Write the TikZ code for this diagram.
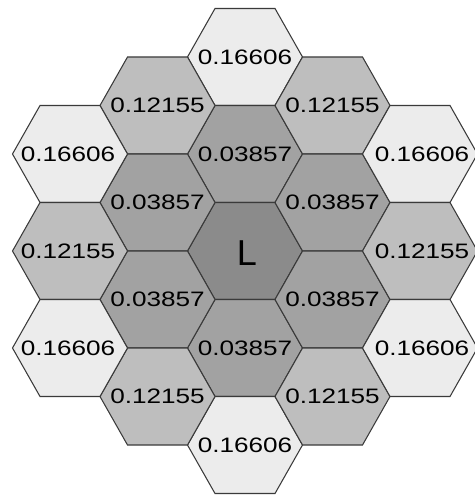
\documentclass[tikz,border=0pt]{standalone}
\usepackage{fontspec}
\usepackage{graphicx}
\setmainfont{Liberation Sans}
\definecolor{ringfar}{HTML}{ECECEC}
\definecolor{ringmid}{HTML}{BEBEBE}
\definecolor{ringnear}{HTML}{A2A2A2}
\definecolor{cellhome}{HTML}{8B8B8B}
\definecolor{edgegrey}{HTML}{3A3A3A}
\newcommand{\hexlabel}[1]{\scalebox{1.25}[1]{#1}}
\begin{document}
\begin{tikzpicture}[x=0.02cm,y=-0.02cm,hexcell/.pic={\path[pic actions] (-57.5,0)--(-30,-48.5)--(30,-48.5)--(57.5,0)--(30,48.5)--(-30,48.5)--cycle;},far/.style={draw=edgegrey,line width=.6pt,fill=ringfar},mid/.style={draw=edgegrey,line width=.6pt,fill=ringmid},near/.style={draw=edgegrey,line width=.6pt,fill=ringnear},home/.style={draw=edgegrey,line width=.6pt,fill=cellhome},val/.style={font=\fontsize{11.9}{13}\selectfont,text=black,inner sep=0pt}]
  \useasboundingbox (0,0) rectangle (475,499);
  \pic[far] at (245,57) {hexcell};
  \pic[near] at (245,154) {hexcell};
  \pic[home] at (245,251) {hexcell};
  \pic[near] at (245,348) {hexcell};
  \pic[far] at (245,445) {hexcell};
  \pic[mid] at (157.5,105.5) {hexcell};
  \pic[near] at (157.5,202.5) {hexcell};
  \pic[near] at (157.5,299.5) {hexcell};
  \pic[mid] at (157.5,396.5) {hexcell};
  \pic[mid] at (332.5,105.5) {hexcell};
  \pic[near] at (332.5,202.5) {hexcell};
  \pic[near] at (332.5,299.5) {hexcell};
  \pic[mid] at (332.5,396.5) {hexcell};
  \pic[far] at (70,154) {hexcell};
  \pic[mid] at (70,251) {hexcell};
  \pic[far] at (70,348) {hexcell};
  \pic[far] at (420,154) {hexcell};
  \pic[mid] at (420,251) {hexcell};
  \pic[far] at (420,348) {hexcell};
  \node[val] (top) at (245,57) {\hexlabel{0.16606}};
  \node[val] (upper) at (245,154) {\hexlabel{0.03857}};
  \node[font=\fontsize{20.5}{24}\selectfont,inner sep=0pt] (centre) at (247,253) {L};
  \node[val] (lower) at (245,348) {\hexlabel{0.03857}};
  \node[val] (bottom) at (245,445) {\hexlabel{0.16606}};
  \node[val] (ulmid) at (157.5,105.5) {\hexlabel{0.12155}};
  \node[val] (ulnear) at (157.5,202.5) {\hexlabel{0.03857}};
  \node[val] (llnear) at (157.5,299.5) {\hexlabel{0.03857}};
  \node[val] (llmid) at (157.5,396.5) {\hexlabel{0.12155}};
  \node[val] (urmid) at (332.5,105.5) {\hexlabel{0.12155}};
  \node[val] (urnear) at (332.5,202.5) {\hexlabel{0.03857}};
  \node[val] (lrnear) at (332.5,299.5) {\hexlabel{0.03857}};
  \node[val] (lrmid) at (332.5,396.5) {\hexlabel{0.12155}};
  \node[val] (ulfar) at (68,154) {\hexlabel{0.16606}};
  \node[val] (leftmid) at (68,251) {\hexlabel{0.12155}};
  \node[val] (llfar) at (68,348) {\hexlabel{0.16606}};
  \node[val] (urfar) at (422,154) {\hexlabel{0.16606}};
  \node[val] (rightmid) at (422,251) {\hexlabel{0.12155}};
  \node[val] (lrfar) at (422,348) {\hexlabel{0.16606}};
\end{tikzpicture}
\end{document}
